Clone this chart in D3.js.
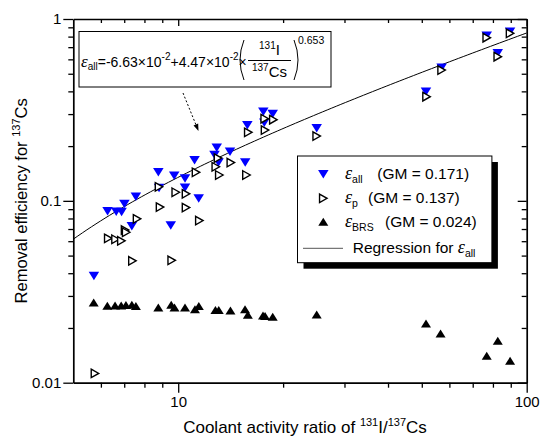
<!DOCTYPE html>
<html>
<head>
<meta charset="utf-8">
<script src="https://cdn.jsdelivr.net/npm/d3@7"></script>
<style>
body { margin: 0; background: #fff; }
text { font-family: "Liberation Sans", Arial, sans-serif; fill: #000; }
.eps { font-family: "Liberation Serif", "Times New Roman", serif; font-style: italic; }
</style>
</head>
<body>
<script>
// removal efficiency, all (blue down triangles)
var allX = [5.73, 6.27, 6.64, 6.88, 7.01, 7.36, 7.56, 8.77, 8.81, 9.52, 9.74, 10.46, 10.46, 11.14, 11.45,
            12.71, 12.90, 13.05, 14.08, 15.57, 15.79, 17.55, 17.66, 18.67, 24.97, 51.4, 57.0, 76.8, 82.6, 89.6];
var allY = [0.0386, 0.0876, 0.0870, 0.0868, 0.0960, 0.0724, 0.1053, 0.1435, 0.1176, 0.0731, 0.1373, 0.1327, 0.1179, 0.1673, 0.1031,
            0.1786, 0.1959, 0.1624, 0.1862, 0.1624, 0.2602, 0.3091, 0.2689, 0.3002, 0.2505, 0.3983, 0.5397, 0.8092, 0.6477, 0.8514];
// epsilon p (open right triangles)
var pX = [5.77, 6.30, 6.61, 6.87, 7.04, 7.09, 7.39, 7.62, 8.81, 8.87, 9.58, 9.84, 10.53, 10.53, 11.25, 11.50,
          12.82, 13.01, 13.12, 14.16, 15.70, 15.89, 17.71, 17.75, 18.75, 24.97, 51.6, 57.0, 76.8, 82.6, 89.6];
var pY = [0.01125, 0.0622, 0.0615, 0.0603, 0.0691, 0.0672, 0.0468, 0.0796, 0.1194, 0.0924, 0.0471, 0.1115, 0.1093, 0.0918, 0.1435, 0.0779,
          0.1540, 0.1720, 0.1387, 0.1624, 0.1387, 0.2380, 0.2829, 0.2451, 0.2793, 0.2272, 0.3738, 0.5241, 0.7892, 0.6204, 0.8344];
// epsilon BRS (black up triangles)
var brsX = [5.72, 6.26, 6.59, 6.86, 7.08, 7.36, 7.56, 8.77, 9.55, 9.76, 10.46, 11.17, 11.46, 12.79, 13.07,
            14.12, 15.55, 15.84, 17.51, 17.75, 18.67, 24.97, 51.4, 56.6, 76.8, 82.6, 89.6];
var brsY = [0.02758, 0.02649, 0.02659, 0.02659, 0.02673, 0.02683, 0.02639, 0.02595, 0.02683, 0.02595, 0.02595, 0.02533, 0.02639, 0.02508, 0.02508,
            0.02495, 0.02533, 0.02362, 0.02339, 0.02324, 0.02304, 0.02374, 0.02119, 0.01867, 0.01406, 0.01700, 0.01320];

var xTicks = [10, 100];
var yTicks = [0.01, 0.1, 1];
var yTickLabels = ["0.01", "0.1", "1"];
var regCoef = [-6.63e-2, 4.47e-2, 0.653];   // eps_all = a + b * r^c
var legendLabels = ["(GM = 0.171)", "(GM = 0.137)", "(GM = 0.024)"];
var legendSubs = ["all", "p", "BRS"];

var width = 542, height = 440;
var margin = {top: 19, right: 15.3, bottom: 57.3, left: 73.3};

var svg = d3.select("body").append("svg")
    .attr("width", width)
    .attr("height", height);

var x = d3.scaleLog().domain([5, 100]).range([margin.left, width - margin.right]);
var y = d3.scaleLog().domain([0.01, 1]).range([height - margin.bottom, margin.top]);

var xMinor = x.ticks().filter(function(d) { return xTicks.indexOf(d) < 0 && d > 5; });
var yMinor = y.ticks().filter(function(d) { return yTicks.indexOf(d) < 0; });

// triangles centred on their bounding box
function tri(dir, w, h) {
  return {draw: function(ctx) {
    if (dir == "down") { ctx.moveTo(-w/2, -h/2); ctx.lineTo(w/2, -h/2); ctx.lineTo(0, h/2); }
    else if (dir == "up") { ctx.moveTo(-w/2, h/2); ctx.lineTo(w/2, h/2); ctx.lineTo(0, -h/2); }
    else { ctx.moveTo(-w/2, -h/2); ctx.lineTo(w/2, 0); ctx.lineTo(-w/2, h/2); }
    ctx.closePath();
  }};
}
var downSym = d3.symbol().type(tri("down", 10.5, 8.5))();
var rightSym = d3.symbol().type(tri("right", 7.5, 8.5))();
var upSym = d3.symbol().type(tri("up", 10, 8))();

// ---- axes ----
var bottom = height - margin.bottom, right = width - margin.right;

function axisG(axis, tx, ty, keepDomain) {
  var g = svg.append("g").attr("transform", "translate(" + tx + "," + ty + ")").call(axis);
  g.selectAll("line").style("stroke", "#000").style("stroke-width", 1.3);
  g.select(".domain").style("stroke", "#000").style("stroke-width", keepDomain ? 1.7 : 0);
  g.selectAll("text").style("font-size", "15px").style("fill", "#000");
  return g;
}

axisG(d3.axisBottom(x).tickValues(xTicks).tickSize(10).tickSizeOuter(0).tickPadding(4)
      .tickFormat(d3.format("d")), 0, bottom, true);
axisG(d3.axisBottom(x).tickValues(xMinor).tickSize(5).tickFormat(""), 0, bottom, false);
axisG(d3.axisTop(x).tickValues(xTicks).tickSize(-7).tickSizeOuter(0).tickFormat(""), 0, margin.top, true);
axisG(d3.axisTop(x).tickValues(xMinor).tickSize(-4).tickFormat(""), 0, margin.top, false);

axisG(d3.axisLeft(y).tickValues(yTicks).tickSize(10).tickSizeOuter(0).tickPadding(2)
      .tickFormat(function(d, i) { return yTickLabels[i]; }), margin.left, 0, true);
axisG(d3.axisLeft(y).tickValues(yMinor).tickSize(5).tickFormat(""), margin.left, 0, false);
axisG(d3.axisRight(y).tickValues(yTicks).tickSize(-9).tickSizeOuter(0).tickFormat(""), right, 0, true);
axisG(d3.axisRight(y).tickValues(yMinor).tickSize(-5).tickFormat(""), right, 0, false);

// axis titles
var xt = svg.append("text")
    .attr("x", 305).attr("y", 433)
    .attr("text-anchor", "middle")
    .style("font-size", "17px");
xt.append("tspan").text("Coolant activity ratio of ");
xt.append("tspan").attr("dy", -7).style("font-size", "11px").text("131");
xt.append("tspan").attr("dy", 7).text("I/");
xt.append("tspan").attr("dy", -7).style("font-size", "11px").text("137");
xt.append("tspan").attr("dy", 7).text("Cs");

var yt = svg.append("text")
    .attr("transform", "translate(27," + (margin.top + bottom) / 2 + ") rotate(-90)")
    .attr("text-anchor", "middle")
    .style("font-size", "16.5px");
yt.append("tspan").text("Removal efficiency for ");
yt.append("tspan").attr("dy", -7).style("font-size", "11px").text("137");
yt.append("tspan").attr("dy", 7).text("Cs");

// ---- regression line ----
svg.append("clipPath").attr("id", "clip")
  .append("rect").attr("x", margin.left).attr("y", margin.top)
  .attr("width", right - margin.left).attr("height", bottom - margin.top);

var regPts = d3.range(0, 101).map(function(i) {
  var r = Math.pow(10, Math.log10(5) + i / 100 * (2 - Math.log10(5)));
  return [r, regCoef[0] + regCoef[1] * Math.pow(r, regCoef[2])];
});
svg.append("path")
    .datum(regPts)
    .attr("clip-path", "url(#clip)")
    .attr("d", d3.line().x(function(d) { return x(d[0]); }).y(function(d) { return y(d[1]); }))
    .style("fill", "none").style("stroke", "#000").style("stroke-width", 1);

// ---- points ----
var plot = svg.append("g").attr("clip-path", "url(#clip)");

plot.selectAll(".all").data(allX).enter().append("path")
    .attr("class", "all")
    .attr("d", downSym)
    .attr("transform", function(d, i) { return "translate(" + x(d) + "," + y(allY[i]) + ")"; })
    .style("fill", "#0000ff");

plot.selectAll(".brs").data(brsX).enter().append("path")
    .attr("class", "brs")
    .attr("d", upSym)
    .attr("transform", function(d, i) { return "translate(" + x(d) + "," + y(brsY[i]) + ")"; })
    .style("fill", "#000");

plot.selectAll(".p").data(pX).enter().append("path")
    .attr("class", "p")
    .attr("d", rightSym)
    .attr("transform", function(d, i) { return "translate(" + x(d) + "," + y(pY[i]) + ")"; })
    .style("fill", "#fff").style("stroke", "#000").style("stroke-width", 1.4);

// ---- equation box ----
svg.append("rect").attr("x", 79).attr("y", 31.5).attr("width", 252).attr("height", 55.5)
    .style("fill", "#fff").style("stroke", "#000").style("stroke-width", 1);

var eq = svg.append("text").attr("x", 81).attr("y", 67).style("font-size", "14px");
eq.append("tspan").attr("class", "eps").style("font-size", "17px").text("ε");
eq.append("tspan").attr("dy", 3).style("font-size", "10px").text("all");
eq.append("tspan").attr("dy", -3).text("=-6.63×10");
eq.append("tspan").attr("dy", -7).style("font-size", "10px").text("-2");
eq.append("tspan").attr("dy", 7).text("+4.47×10");
eq.append("tspan").attr("dy", -7).style("font-size", "10px").text("-2");
eq.append("tspan").attr("dy", 7).text("×");

svg.append("path").attr("d", "M244,40 Q236,60 244,80")
    .style("fill", "none").style("stroke", "#000").style("stroke-width", 1);
svg.append("path").attr("d", "M294,40 Q302,60 294,80")
    .style("fill", "none").style("stroke", "#000").style("stroke-width", 1);
svg.append("line").attr("x1", 248).attr("x2", 291).attr("y1", 60.5).attr("y2", 60.5)
    .style("stroke", "#000").style("stroke-width", 1);

var num = svg.append("text").attr("x", 269.5).attr("y", 55).attr("text-anchor", "middle").style("font-size", "15px");
num.append("tspan").attr("dy", -6).style("font-size", "10px").text("131");
num.append("tspan").attr("dy", 6).text("I");
var den = svg.append("text").attr("x", 269.5).attr("y", 77).attr("text-anchor", "middle").style("font-size", "15px");
den.append("tspan").attr("dy", -6).style("font-size", "10px").text("137");
den.append("tspan").attr("dy", 6).text("Cs");
svg.append("text").attr("x", 298).attr("y", 44).style("font-size", "10.5px").text("0.653");

// dashed arrow
var a0 = [183, 93], a1 = [198.5, 131];
var dx = a1[0] - a0[0], dy = a1[1] - a0[1], len = Math.sqrt(dx * dx + dy * dy);
var ux = dx / len, uy = dy / len;
svg.append("line")
    .attr("x1", a0[0]).attr("y1", a0[1]).attr("x2", a1[0] - 5 * ux).attr("y2", a1[1] - 5 * uy)
    .style("stroke", "#000").style("stroke-width", 1).style("stroke-dasharray", "2,2");
svg.append("path")
    .attr("d", "M" + a1[0] + "," + a1[1] +
               "L" + (a1[0] - 7 * ux - 2.5 * uy) + "," + (a1[1] - 7 * uy + 2.5 * ux) +
               "L" + (a1[0] - 7 * ux + 2.5 * uy) + "," + (a1[1] - 7 * uy - 2.5 * ux) + "Z")
    .style("fill", "#000");

// ---- legend ----
var lg = svg.append("g");
lg.append("rect").attr("x", 303.5).attr("y", 162).attr("width", 194.4).attr("height", 106.7).style("fill", "#000");
lg.append("rect").attr("x", 297.5).attr("y", 156).attr("width", 194.4).attr("height", 106.7)
    .style("fill", "#fff").style("stroke", "#000").style("stroke-width", 1);

var rowsY = [174.3, 198.3, 221.7, 248.3];
var syms = [downSym, rightSym, upSym];
var gmX = [377.3, 368, 385];
syms.forEach(function(s, i) {
  var p = lg.append("path").attr("d", s).attr("transform", "translate(323.3," + rowsY[i] + ")");
  if (i == 0) p.style("fill", "#0000ff");
  else if (i == 1) p.style("fill", "#fff").style("stroke", "#000").style("stroke-width", 1.4);
  else p.style("fill", "#000");
  var t = lg.append("text").attr("x", 345).attr("y", rowsY[i] + 5).style("font-size", "15.5px");
  t.append("tspan").attr("class", "eps").style("font-size", "18px").text("ε");
  t.append("tspan").attr("dy", 4).style("font-size", "10.5px").text(legendSubs[i]);
  lg.append("text").attr("x", gmX[i]).attr("y", rowsY[i] + 5).style("font-size", "15.5px").text(legendLabels[i]);
});
lg.append("line").attr("x1", 303).attr("x2", 343).attr("y1", rowsY[3]).attr("y2", rowsY[3])
    .style("stroke", "#555").style("stroke-width", 1);
var rt = lg.append("text").attr("x", 352.7).attr("y", rowsY[3] + 5).style("font-size", "15.5px");
rt.append("tspan").text("Regression for ");
rt.append("tspan").attr("class", "eps").style("font-size", "18px").text("ε");
rt.append("tspan").attr("dy", 4).style("font-size", "10.5px").text("all");
</script>
</body>
</html>
